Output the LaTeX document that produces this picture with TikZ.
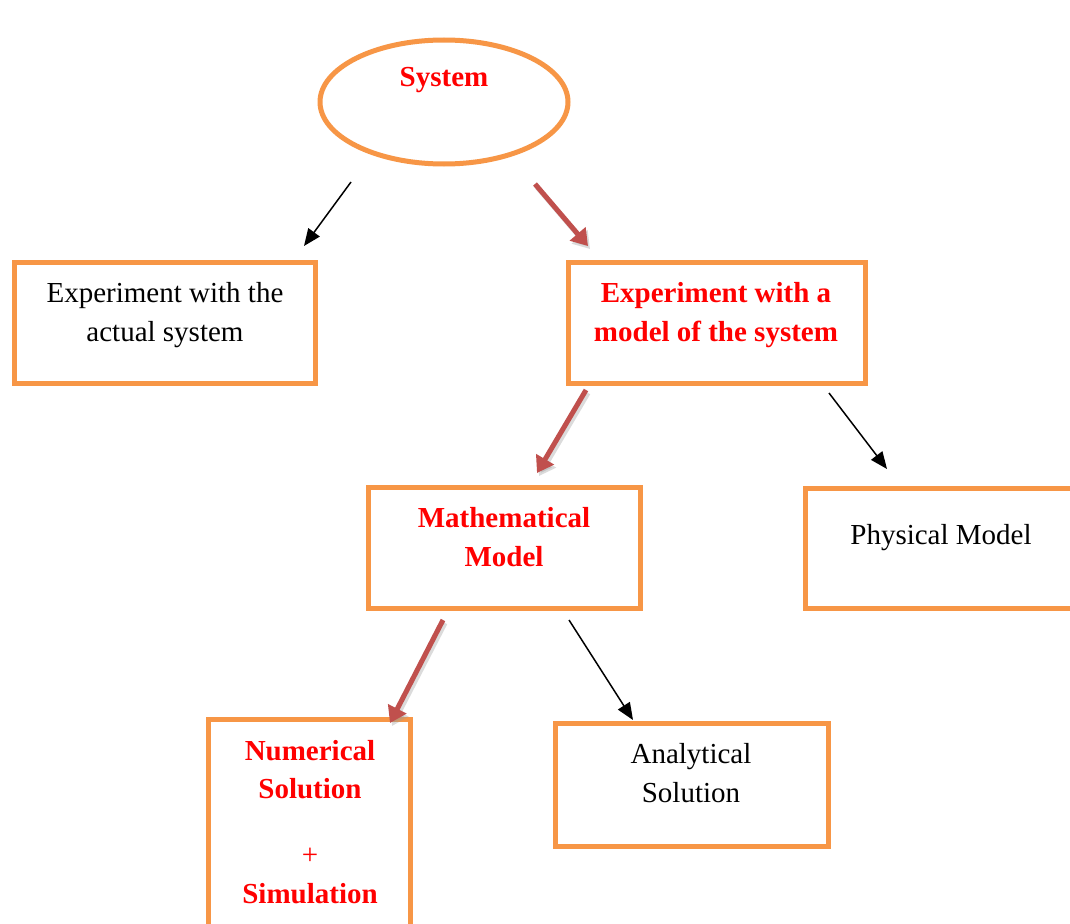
\documentclass[tikz,border=0pt]{standalone}
\usepackage{fontspec}
\setmainfont{Liberation Serif}
\usetikzlibrary{arrows.meta,shapes.geometric}
\definecolor{boxorange}{HTML}{F79646}
\definecolor{flowred}{HTML}{C0504D}
\definecolor{textred}{HTML}{FF0000}
\begin{document}
\begin{tikzpicture}[x=1pt,y=-1pt,
  frame/.style={draw=boxorange, line width=5pt, inner sep=0pt, rectangle},
  caption/.style={align=center, inner sep=0pt, font=\fontsize{29}{38.5}\selectfont},
  hot/.style={align=center, inner sep=0pt, text=textred, font=\fontsize{29}{38.5}\selectfont\bfseries},
  plain/.style={draw=black, line width=1.5pt, -{Triangle[length=17pt,width=14pt]}},
  main/.style={draw=flowred, line width=5pt, -{Triangle[length=16pt,width=20pt]}},
  shade/.style={draw=black!40, opacity=0.35, line width=5pt, -{Triangle[length=16pt,width=20pt]},
    transform canvas={shift={(2,3)}}},
]
\clip (0,0) rectangle (1070,923);
\fill[white] (0,0) rectangle (1070,923);

% system ellipse
\node[ellipse, draw=boxorange, line width=5pt, inner sep=0pt,
      minimum width=248pt, minimum height=124pt] (sys) at (444,102) {};
\node[hot] (syst) at (444,80) {System};

% boxes
\node[frame, minimum width=301pt, minimum height=121pt] (actual) at (164.5,322.5) {};
\node[caption] (actualt) at (165,315) {Experiment with the\\actual system};

\node[frame, minimum width=297pt, minimum height=121pt] (model) at (716.5,322.5) {};
\node[hot] (modelt) at (716,315) {Experiment with a\\model of the system};

\node[frame, minimum width=272pt, minimum height=121pt] (math) at (504,547.5) {};
\node[hot] (matht) at (504,537) {Mathematical\\Model};

\node[frame, minimum width=295pt, minimum height=120pt] (phys) at (952.5,548) {};
\node[caption] (physt) at (941,538) {Physical Model};

\node[frame, minimum width=202pt, minimum height=241pt] (num) at (309,839.5) {};
\node[hot] (numt) at (310,822) {Numerical\\Solution\\[27.5pt]{\mdseries +}\\Simulation};

\node[frame, minimum width=273pt, minimum height=123pt] (ana) at (691.5,784.5) {};
\node[caption] (anat) at (691,773) {Analytical\\Solution};

% connector ends
\coordinate (a1s) at (351,182); \coordinate (a1e) at (304,246);
\coordinate (a2s) at (535,184); \coordinate (a2e) at (588,246);
\coordinate (a3s) at (586,390); \coordinate (a3e) at (537,473);
\coordinate (a4s) at (829,393); \coordinate (a4e) at (887,469);
\coordinate (a5s) at (443,620); \coordinate (a5e) at (390,723);
\coordinate (a6s) at (569,620); \coordinate (a6e) at (633,720);

% connectors
\draw[plain] (a1s) -- (a1e);
\draw[shade] (a2s) -- (a2e);
\draw[main] (a2s) -- (a2e);
\draw[shade] (a3s) -- (a3e);
\draw[main] (a3s) -- (a3e);
\draw[plain] (a4s) -- (a4e);
\draw[shade] (a5s) -- (a5e);
\draw[main] (a5s) -- (a5e);
\draw[plain] (a6s) -- (a6e);
\end{tikzpicture}
\end{document}
